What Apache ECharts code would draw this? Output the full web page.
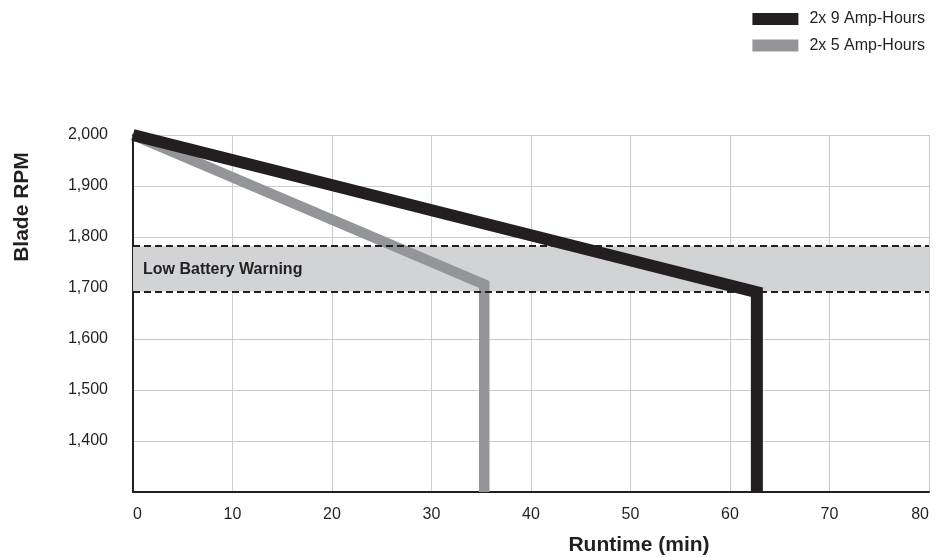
<!DOCTYPE html>
<html>
<head>
<meta charset="utf-8">
<script src="https://cdn.jsdelivr.net/npm/echarts@6/dist/echarts.min.js"></script>
<style>
html,body{margin:0;padding:0;background:#fff;}
#chart{width:936px;height:558px;}
</style>
</head>
<body>
<div id="chart"></div>
<script>
var FONT = '"Liberation Sans Narrow", "Liberation Sans", Arial, sans-serif';
var seriesNames = ['2x 9 Amp-Hours', '2x 5 Amp-Hours'];
var runtimeNine = [0, 62.7, 62.7];
var rpmNine = [2000, 1692, 1300];
var runtimeFive = [0, 35.3, 35.3];
var rpmFive = [2000, 1707, 1300];
var warningBand = [1693, 1782];
var warningLabel = 'Low Battery Warning';
var xTicks = [0, 10, 20, 30, 40, 50, 60, 70, 80];
var yTicks = [1300, 1400, 1500, 1600, 1700, 1800, 1900, 2000];

function pairs(xs, ys) { return xs.map(function (x, i) { return [x, ys[i]]; }); }

var chart = echarts.init(document.getElementById('chart'), null, {renderer: 'canvas'});
chart.setOption({
  backgroundColor: '#fff',
  animation: false,
  textStyle: {fontFamily: FONT, color: '#231f20'},
  legend: {
    data: seriesNames,
    orient: 'vertical',
    right: 6,
    top: 6,
    itemWidth: 46,
    itemHeight: 12,
    itemGap: 10.5,
    icon: 'rect',
    textStyle: {fontFamily: FONT, fontSize: 16, color: '#231f20', padding: [0, 0, 0, 6]}
  },
  grid: {left: 133, right: 7, top: 135, bottom: 66, containLabel: false},
  xAxis: {
    type: 'value',
    min: xTicks[0],
    max: xTicks[xTicks.length - 1],
    interval: 10,
    axisLine: {show: true, onZero: false, lineStyle: {color: '#231f20', width: 2}},
    axisTick: {show: false},
    splitLine: {show: true, lineStyle: {color: '#cbcbcb', width: 1}},
    axisLabel: {fontFamily: FONT, fontSize: 16, color: '#231f20', margin: 15, alignMinLabel: 'left', alignMaxLabel: 'right'}
  },
  yAxis: {
    type: 'value',
    min: yTicks[0],
    max: yTicks[yTicks.length - 1],
    interval: 100,
    axisLine: {show: true, onZero: false, lineStyle: {color: '#231f20', width: 2}},
    axisTick: {show: false},
    splitLine: {show: true, lineStyle: {color: '#cbcbcb', width: 1}},
    axisLabel: {
      fontFamily: FONT, fontSize: 16, color: '#231f20', margin: 25,
      formatter: function (v) { return v === yTicks[0] ? '' : v.toLocaleString('en-US'); }
    }
  },
  graphic: [
    {type: 'text', x: 22, y: 207, rotation: Math.PI / 2,
     style: {text: 'Blade RPM', fontFamily: FONT, fontSize: 21, fontWeight: 'bold', fill: '#231f20',
             align: 'center', verticalAlign: 'middle', textAlign: 'center', textVerticalAlign: 'middle'}},
    {type: 'text', x: 639, y: 545,
     style: {text: 'Runtime (min)', fontFamily: FONT, fontSize: 21, fontWeight: 'bold', fill: '#231f20',
             align: 'center', verticalAlign: 'middle', textAlign: 'center', textVerticalAlign: 'middle'}}
  ],
  series: [
    {
      name: 'band', type: 'line', data: [], silent: true,
      markArea: {
        silent: true,
        itemStyle: {color: '#d1d3d4'},
        label: {show: true, position: 'insideLeft', offset: [5, 1], formatter: warningLabel,
                fontFamily: FONT, fontSize: 16, fontWeight: 'bold', color: '#231f20'},
        data: [[{yAxis: warningBand[0]}, {yAxis: warningBand[1]}]]
      },
      markLine: {
        silent: true, symbol: 'none', label: {show: false},
        lineStyle: {color: '#231f20', width: 2, type: [7, 4]},
        data: [{yAxis: warningBand[0]}, {yAxis: warningBand[1]}]
      }
    },
    {
      name: seriesNames[1], type: 'line', data: pairs(runtimeFive, rpmFive),
      showSymbol: false, symbol: 'none', clip: true, z: 3,
      lineStyle: {color: '#939598', width: 10.5, join: 'miter', cap: 'butt'},
      itemStyle: {color: '#939598'}
    },
    {
      name: seriesNames[0], type: 'line', data: pairs(runtimeNine, rpmNine),
      showSymbol: false, symbol: 'none', clip: true, z: 4,
      lineStyle: {color: '#231f20', width: 12, join: 'miter', cap: 'butt'},
      itemStyle: {color: '#231f20'}
    }
  ]
});
</script>
</body>
</html>
